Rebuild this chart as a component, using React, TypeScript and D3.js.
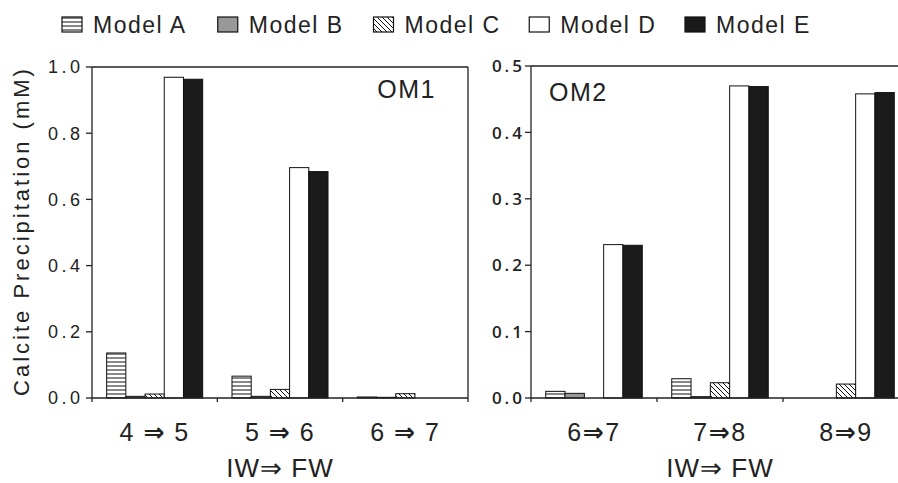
import React from 'react';
import * as d3 from 'd3';

const models = ['Model A', 'Model B', 'Model C', 'Model D', 'Model E'];

// OM1 panel, IW => FW transitions
const groupsOM1 = ['4 ⇒ 5', '5 ⇒ 6', '6 ⇒ 7'];
const om1ModelA = [0.136, 0.066, 0.003];
const om1ModelB = [0.005, 0.005, 0.002];
const om1ModelC = [0.012, 0.026, 0.013];
const om1ModelD = [0.969, 0.696, 0];
const om1ModelE = [0.963, 0.684, 0];
const om1Ticks = [0, 0.2, 0.4, 0.6, 0.8, 1.0];

// OM2 panel
const groupsOM2 = ['6⇒7', '7⇒8', '8⇒9'];
const om2ModelA = [0.01, 0.029, 0];
const om2ModelB = [0.007, 0.002, 0];
const om2ModelC = [0, 0.023, 0.021];
const om2ModelD = [0.231, 0.47, 0.458];
const om2ModelE = [0.23, 0.469, 0.46];
const om2Ticks = [0, 0.1, 0.2, 0.3, 0.4, 0.5];

const fills: Record<string, string> = {
  'Model A': 'url(#hatchH)',
  'Model B': '#999999',
  'Model C': 'url(#hatchD)',
  'Model D': '#ffffff',
  'Model E': '#1a1a1a',
};

const FONT = '"Liberation Sans", Arial, sans-serif';
const FONT2 = '"Open Sans", "Noto Sans", sans-serif';

type PanelProps = {
  groups: string[];
  series: number[][];
  ticks: number[];
  yMax: number;
  x0: number;
  x1: number;
  top: number;
  bottom: number;
  label: string;
  labelRight: boolean;
  right: boolean;
};

// heavy arrow like the original tick labels
const ArrowLabel = ({ text }: { text: string }) => {
  const [a, b] = text.split('⇒');
  return (
    <>
      {a}
      <tspan fontWeight="bold" fontFamily='"DejaVu Sans", sans-serif'>⇒</tspan>
      {b}
    </>
  );
};

const Panel = ({ groups, series, ticks, yMax, x0, x1, top, bottom, label, labelRight, right }: PanelProps) => {
  const xg = d3.scaleBand<string>().domain(groups).range([x0, x1]).paddingInner(0).paddingOuter(0);
  const xm = d3.scaleBand<string>().domain(models).range([0, xg.bandwidth()]).paddingInner(0).paddingOuter(0.763);
  const y = d3.scaleLinear().domain([0, yMax]).range([bottom, top]);
  const fmt = d3.format('.1f');
  const bounds = [...groups.map(g => xg(g)!), x1];
  const tickFont = right ? FONT2 : FONT;
  const ls = right ? 3 : 3.5;
  return (
    <g>
      {groups.map((g, gi) => (
        <g key={g}>
          {models.map((m, mi) => {
            const v = series[mi][gi];
            if (!v) return null;
            return (
              <rect key={m} x={xg(g)! + xm(m)!} y={y(v)} width={xm.bandwidth()} height={bottom - y(v)}
                fill={fills[m]} stroke="#111" strokeWidth={1} />
            );
          })}
          <text x={xg(g)! + xg.bandwidth() / 2} y={441} textAnchor="middle" fontFamily={FONT}
            fontSize={25} letterSpacing={1.5} fill="#222"><ArrowLabel text={g} /></text>
        </g>
      ))}
      {/* frame */}
      <line x1={x0} x2={x0} y1={top} y2={bottom} stroke="#222" strokeWidth={1.3} />
      <line x1={x0} x2={x1} y1={top} y2={top} stroke="#222" strokeWidth={1.3} />
      <line x1={x1} x2={x1} y1={top} y2={bottom} stroke="#222" strokeWidth={1.3} />
      <line x1={x0} x2={x1} y1={bottom} y2={bottom} stroke="#222" strokeWidth={1.3} />
      {bounds.map((b, i) => (
        <line key={i} x1={b} x2={b} y1={bottom} y2={bottom + 4} stroke="#222" strokeWidth={1.3} />
      ))}
      {ticks.map(t => (
        <g key={t}>
          <line x1={x0 - 6} x2={x0} y1={y(t)} y2={y(t)} stroke="#222" strokeWidth={1.3} />
          <text x={x0 - (right ? 9 : 12) + ls} y={y(t)} dy="0.36em" textAnchor="end" fontFamily={tickFont}
            fontWeight={right ? 600 : 400} fontSize={right ? 17 : 18} letterSpacing={ls} fill="#222">{fmt(t)}</text>
        </g>
      ))}
      <text x={labelRight ? x1 - 32 : x0 + 18} y={labelRight ? 98 : 101} textAnchor={labelRight ? 'end' : 'start'}
        fontFamily={FONT} fontSize={25} letterSpacing={1.5} fill="#222">{label}</text>
      <text x={(x0 + x1) / 2} y={477} textAnchor="middle" fontFamily={FONT} fontSize={26} letterSpacing={1}
        fill="#222">IW⇒ FW</text>
    </g>
  );
};

export default function App() {
  const legendX = d3.scalePoint<string>().domain(models).range([62, 685]);
  return (
    <svg width={898} height={483} viewBox="0 0 898 483"
      style={{ position: 'absolute', left: 0, top: 0, background: '#fff', overflow: 'hidden', display: 'block' }}>
      <defs>
        <pattern id="hatchH" patternUnits="userSpaceOnUse" width={4} height={4}>
          <rect width={4} height={4} fill="#fff" />
          <line x1={0} x2={4} y1={2} y2={2} stroke="#111" strokeWidth={1} />
        </pattern>
        <pattern id="hatchD" patternUnits="userSpaceOnUse" width={5} height={5}>
          <rect width={5} height={5} fill="#fff" />
          <path d="M0,0L5,5M-1,4L1,6M4,-1L6,1" stroke="#111" strokeWidth={1} />
        </pattern>
        <clipPath id="page">
          <rect width={898} height={483} />
        </clipPath>
      </defs>
      <g clipPath="url(#page)">
        <rect width={898} height={483} fill="#fff" />
        {models.map(m => (
          <g key={m}>
            <rect x={legendX(m)!} y={17} width={20} height={15} fill={fills[m]} stroke="#111" strokeWidth={1.2} />
            <text x={legendX(m)! + 31} y={33} fontFamily={FONT} fontSize={23} letterSpacing={1.5} fill="#222">{m}</text>
          </g>
        ))}
        <text transform="translate(29,231) rotate(-90)" textAnchor="middle" fontFamily={FONT} fontSize={22}
          letterSpacing={3} fill="#222">Calcite Precipitation (mM)</text>
        <Panel groups={groupsOM1} series={[om1ModelA, om1ModelB, om1ModelC, om1ModelD, om1ModelE]} ticks={om1Ticks}
          yMax={1} x0={92} x1={468} top={67} bottom={398} label="OM1" labelRight={true} right={false} />
        <Panel groups={groupsOM2} series={[om2ModelA, om2ModelB, om2ModelC, om2ModelD, om2ModelE]} ticks={om2Ticks}
          yMax={0.5} x0={531} x1={909} top={66} bottom={398} label="OM2" labelRight={false} right={true} />
      </g>
    </svg>
  );
}
